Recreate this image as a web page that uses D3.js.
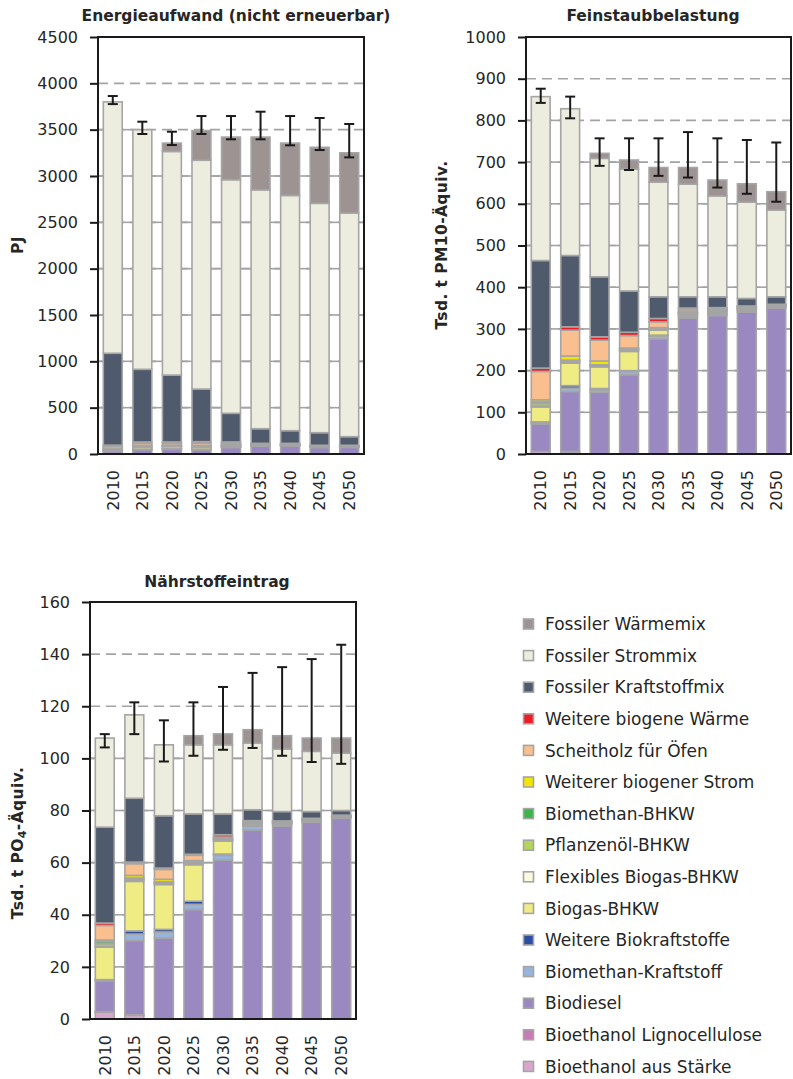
<!DOCTYPE html>
<html>
<head>
<meta charset="utf-8">
<script src="https://cdn.jsdelivr.net/npm/d3@7"></script>
<style>
body { margin: 0; background: #fff; }
svg text { font-family: "DejaVu Sans", sans-serif; fill: #262626; }
</style>
</head>
<body>
<svg id="drawing_region" width="793" height="1079"></svg>
<script>
const years = ["2010", "2015", "2020", "2025", "2030", "2035", "2040", "2045", "2050"];

// stack order, bottom -> top
const seriesNames = [
    "Bioethanol aus Stärke", "Bioethanol Lignocellulose", "Biodiesel", "Biomethan-Kraftstoff",
    "Weitere Biokraftstoffe", "Biogas-BHKW", "Flexibles Biogas-BHKW", "Pflanzenöl-BHKW",
    "Biomethan-BHKW", "Weiterer biogener Strom", "Scheitholz für Öfen", "Weitere biogene Wärme",
    "Fossiler Kraftstoffmix", "Fossiler Strommix", "Fossiler Wärmemix"
];
const seriesColors = [
    "#d9a7cd", "#c97bb8", "#9a88c0", "#96b4dc",
    "#2c4ea2", "#f0ec84", "#fafade", "#b5d55a",
    "#3ab54a", "#f2e600", "#f9bf8f", "#ee1c25",
    "#4f5a6d", "#ededdf", "#9d9393"
];

// Energieaufwand (PJ), one row per series
const energie = [
    [3, 2, 1, 0, 0, 0, 0, 0, 0],
    [0, 0, 0, 0, 0, 0, 0, 0, 0],
    [25, 45, 50, 45, 70, 85, 88, 70, 72],
    [1, 3, 3, 5, 5, 4, 4, 4, 4],
    [2, 3, 2, 3, 2, 1, 1, 1, 1],
    [15, 25, 25, 25, 15, 5, 5, 4, 3],
    [0, 0, 0, 2, 2, 2, 2, 2, 2],
    [2, 1, 1, 1, 1, 1, 1, 1, 1],
    [1, 1, 1, 1, 1, 1, 1, 1, 1],
    [6, 8, 8, 8, 5, 3, 3, 2, 2],
    [25, 25, 22, 25, 15, 8, 6, 5, 4],
    [15, 17, 17, 18, 14, 5, 4, 4, 4],
    [992, 784, 722, 568, 309, 158, 137, 136, 93],
    [2713, 2586, 2413, 2469, 2521, 2577, 2538, 2475, 2413],
    [0, 0, 90, 320, 460, 570, 565, 605, 650]
];
const energieLow = [3776, 3453, 3334, 3453, 3396, 3396, 3331, 3280, 3201];
const energieHigh = [3863, 3586, 3478, 3647, 3647, 3694, 3647, 3626, 3561];

// Feinstaub (Tsd. t PM10-Äquiv.)
const feinstaub = [
    [6, 5, 0, 0, 0, 0, 0, 0, 0],
    [0, 1, 0, 0, 0, 0, 0, 0, 0],
    [66, 144, 148, 190, 276, 326, 332, 340, 350],
    [3, 8, 6, 8, 7, 4, 4, 4, 3],
    [2, 6, 3, 2, 2, 2, 2, 2, 1],
    [36, 54, 52, 46, 12, 3, 3, 2, 1],
    [2, 2, 2, 3, 2, 2, 2, 2, 1],
    [6, 3, 2, 2, 1, 1, 1, 1, 1],
    [4, 2, 1, 1, 1, 1, 1, 1, 0],
    [5, 10, 9, 2, 2, 2, 2, 1, 1],
    [68, 62, 50, 30, 14, 5, 2, 1, 0],
    [8, 8, 8, 8, 8, 4, 2, 1, 1],
    [258, 171, 144, 99, 52, 27, 26, 18, 18],
    [393, 352, 284, 292, 275, 270, 242, 231, 208],
    [0, 0, 12, 22, 35, 40, 38, 44, 44]
];
const feinstaubLow = [842, 805, 691, 681, 667, 663, 639, 624, 605];
const feinstaubHigh = [876, 857, 757, 757, 757, 772, 757, 753, 747];

// Nährstoffeintrag (Tsd. t PO4-Äquiv.)
const naehrstoff = [
    [2.6, 1.4, 0, 0, 0, 0, 0, 0, 0],
    [0.2, 0.2, 0, 0, 0, 0, 0, 0, 0],
    [11.8, 28.5, 31, 42, 61, 72.5, 74, 75.5, 77],
    [0.3, 2.5, 2.4, 2.0, 1.8, 1.5, 0.8, 0.5, 0.3],
    [0.2, 1.2, 1.0, 1.2, 0.5, 0.3, 0.2, 0.2, 0.1],
    [12.5, 19, 17.2, 14, 5, 0.5, 0.3, 0.2, 0.2],
    [0.3, 0.5, 0.4, 0.5, 0.3, 0.3, 0.2, 0.1, 0.1],
    [1.0, 0.5, 0.4, 0.4, 0.2, 0.1, 0.1, 0.1, 0.1],
    [0.8, 0.3, 0.2, 0.2, 0.2, 0.1, 0.1, 0.1, 0.1],
    [0.6, 1.0, 1.0, 0.5, 0.3, 0.2, 0.1, 0.1, 0.1],
    [5.6, 4.5, 3.8, 2.0, 0.5, 0.3, 0.1, 0.1, 0.1],
    [0.9, 0.6, 0.5, 0.4, 0.9, 0.3, 0.1, 0.1, 0.1],
    [36.8, 24.5, 20.1, 15.5, 8.0, 4.2, 3.6, 2.6, 1.8],
    [34.2, 32, 27.2, 26.5, 26.5, 25.6, 24, 23.1, 22],
    [0, 0, 0, 3.5, 4.2, 5.1, 5.1, 5.1, 5.8]
];
const naehrstoffLow = [104.2, 109.3, 98.8, 101.0, 103.3, 104.0, 101.0, 98.6, 97.9];
const naehrstoffHigh = [109.3, 121.5, 114.6, 121.5, 127.4, 132.8, 135.0, 138.1, 143.6];

const GRID = "#a3a3a3";
const BORDER = "#a5a5a5";

class StackedBarChart {

    constructor( config, rows, low, high ) {
        this.config = config;
        this.rows = rows;
        this.low = low;
        this.high = high;
        this.init();
    }

    init() {
        let self = this;
        self.svg = d3.select( self.config.parent );
        self.chart = self.svg.append('g')
            .attr('transform', `translate(${self.config.left}, ${self.config.top})`);

        self.xscale = d3.scaleBand()
            .domain( years )
            .range( [0, self.config.width] )
            .paddingInner( 0.36 )
            .paddingOuter( 0.18 );

        self.yscale = d3.scaleLinear()
            .domain( [0, self.config.ymax] )
            .range( [self.config.height, 0] );
    }

    update() {
        let self = this;
        const table = years.map( (yr, j) => {
            const o = { year: yr };
            seriesNames.forEach( (s, i) => o[s] = self.rows[i][j] );
            return o;
        });
        self.stacked = d3.stack().keys( seriesNames )( table );
        self.totals = years.map( (yr, j) => d3.sum( self.rows, r => r[j] ) );
        self.render();
    }

    render() {
        let self = this;
        const w = self.config.width, h = self.config.height;
        const bw = self.xscale.bandwidth();
        const ticks = d3.range( 0, self.config.ymax + self.config.step / 2, self.config.step );

        // gridlines: dashed, solid in the gaps between bars that reach above them
        const grid = self.chart.append('g');
        ticks.filter( v => v > 0 && v < self.config.ymax ).forEach( v => {
            const y = self.yscale( v );
            grid.append('line')
                .attr('x1', 0).attr('x2', w).attr('y1', y).attr('y2', y)
                .attr('stroke', GRID).attr('stroke-width', 1.6)
                .attr('stroke-dasharray', '10,6');
            for (let k = 0; k <= years.length; k++) {
                const x0 = k === 0 ? 0 : self.xscale( years[k-1] ) + bw;
                const x1 = k === years.length ? w : self.xscale( years[k] );
                const adj = [];
                if (k > 0) adj.push( self.totals[k-1] );
                if (k < years.length) adj.push( self.totals[k] );
                if (v <= d3.min( adj ) + self.config.step * 0.02) {
                    grid.append('line')
                        .attr('x1', x0).attr('x2', x1).attr('y1', y).attr('y2', y)
                        .attr('stroke', GRID).attr('stroke-width', 1.6);
                }
            }
        });

        // stacked bars
        self.chart.append('g')
            .selectAll('g')
            .data( self.stacked )
            .join('g')
            .attr('fill', (d, i) => seriesColors[i])
            .selectAll('rect')
            .data( d => d.filter( p => p[1] - p[0] > 0 ) )
            .join('rect')
            .attr('x', d => self.xscale( d.data.year ))
            .attr('width', bw)
            .attr('y', d => self.yscale( d[1] ))
            .attr('height', d => self.yscale( d[0] ) - self.yscale( d[1] ))
            .attr('stroke', BORDER)
            .attr('stroke-width', 1.6);

        // error bars
        const err = self.chart.append('g')
            .attr('stroke', '#1a1a1a').attr('stroke-width', 2);
        years.forEach( (yr, j) => {
            const cx = self.xscale( yr ) + bw / 2;
            const y0 = self.yscale( self.low[j] ), y1 = self.yscale( self.high[j] );
            err.append('line').attr('x1', cx).attr('x2', cx).attr('y1', y0).attr('y2', y1);
            err.append('line').attr('x1', cx - 5).attr('x2', cx + 5).attr('y1', y0).attr('y2', y0);
            err.append('line').attr('x1', cx - 5).attr('x2', cx + 5).attr('y1', y1).attr('y2', y1);
        });

        // y axis
        const yaxis_group = self.chart.append('g')
            .call( d3.axisLeft( self.yscale )
                .tickValues( ticks )
                .tickFormat( d3.format('d') )
                .tickSize( 8 )
                .tickPadding( 12 ) );
        yaxis_group.select('.domain').remove();
        yaxis_group.selectAll('line').attr('stroke', '#1a1a1a').attr('stroke-width', 2);
        yaxis_group.selectAll('text')
            .attr('font-size', '16px')
            .attr('font-family', '"DejaVu Sans", sans-serif')
            .attr('fill', '#262626');

        // x axis
        const xaxis_group = self.chart.append('g')
            .attr('transform', `translate(0, ${h})`)
            .call( d3.axisBottom( self.xscale ).tickSize( 0 ) );
        xaxis_group.select('.domain').remove();
        xaxis_group.selectAll('text')
            .attr('transform', 'rotate(-90)')
            .attr('text-anchor', 'end')
            .attr('x', -16)
            .attr('y', 0)
            .attr('dy', '0.36em')
            .attr('font-size', '16px')
            .attr('font-family', '"DejaVu Sans", sans-serif')
            .attr('fill', '#262626');

        // frame
        self.chart.append('rect')
            .attr('x', 0).attr('y', 0).attr('width', w).attr('height', h)
            .attr('fill', 'none').attr('stroke', '#1a1a1a').attr('stroke-width', 2);

        // title
        self.svg.append('text')
            .attr('x', self.config.titleX)
            .attr('y', self.config.titleY)
            .attr('text-anchor', 'middle')
            .attr('font-size', '15.5px')
            .attr('font-weight', 'bold')
            .text( self.config.title );

        // y label
        const lab = self.svg.append('text')
            .attr('transform', `translate(${self.config.labelX}, ${self.config.labelY}) rotate(-90)`)
            .attr('text-anchor', 'middle')
            .attr('font-size', '15.5px')
            .attr('font-weight', 'bold')
            .attr('letter-spacing', '0.4px');
        self.config.label.forEach( part => {
            lab.append('tspan')
                .attr('font-size', part.sub ? '11px' : null)
                .attr('dy', part.dy || 0)
                .text( part.t );
        });
    }
}

const charts = [
    new StackedBarChart({
        parent: '#drawing_region', left: 98, top: 37, width: 266, height: 417,
        ymax: 4500, step: 500, title: 'Energieaufwand (nicht erneuerbar)', titleX: 236, titleY: 21,
        label: [{t: 'PJ'}], labelX: 23, labelY: 245
    }, energie, energieLow, energieHigh ),
    new StackedBarChart({
        parent: '#drawing_region', left: 526, top: 37, width: 265, height: 417,
        ymax: 1000, step: 100, title: 'Feinstaubbelastung', titleX: 653, titleY: 21,
        label: [{t: 'Tsd. t PM10-Äquiv.'}], labelX: 447, labelY: 245
    }, feinstaub, feinstaubLow, feinstaubHigh ),
    new StackedBarChart({
        parent: '#drawing_region', left: 90, top: 602, width: 266, height: 417,
        ymax: 160, step: 20, title: 'Nährstoffeintrag', titleX: 217, titleY: 587,
        label: [{t: 'Tsd. t PO'}, {t: '4', sub: true, dy: 3}, {t: '-Äquiv.', dy: -3}], labelX: 23, labelY: 843
    }, naehrstoff, naehrstoffLow, naehrstoffHigh )
];
charts.forEach( c => c.update() );

// legend, top entry = top of stack
const legend = d3.select('#drawing_region').append('g')
    .attr('transform', 'translate(523, 624)');
const legendItems = seriesNames.map( (s, i) => ({ name: s, color: seriesColors[i] }) ).reverse();
const rowsG = legend.selectAll('g')
    .data( legendItems )
    .join('g')
    .attr('transform', (d, i) => `translate(0, ${i * 31.6})`);
rowsG.append('rect')
    .attr('x', 0.5).attr('y', -5).attr('width', 10).attr('height', 10)
    .attr('fill', d => d.color)
    .attr('stroke', BORDER).attr('stroke-width', 1.6);
rowsG.append('text')
    .attr('x', 22).attr('y', 0).attr('dy', '0.36em')
    .attr('font-size', '17px')
    .text( d => d.name );
</script>
</body>
</html>
